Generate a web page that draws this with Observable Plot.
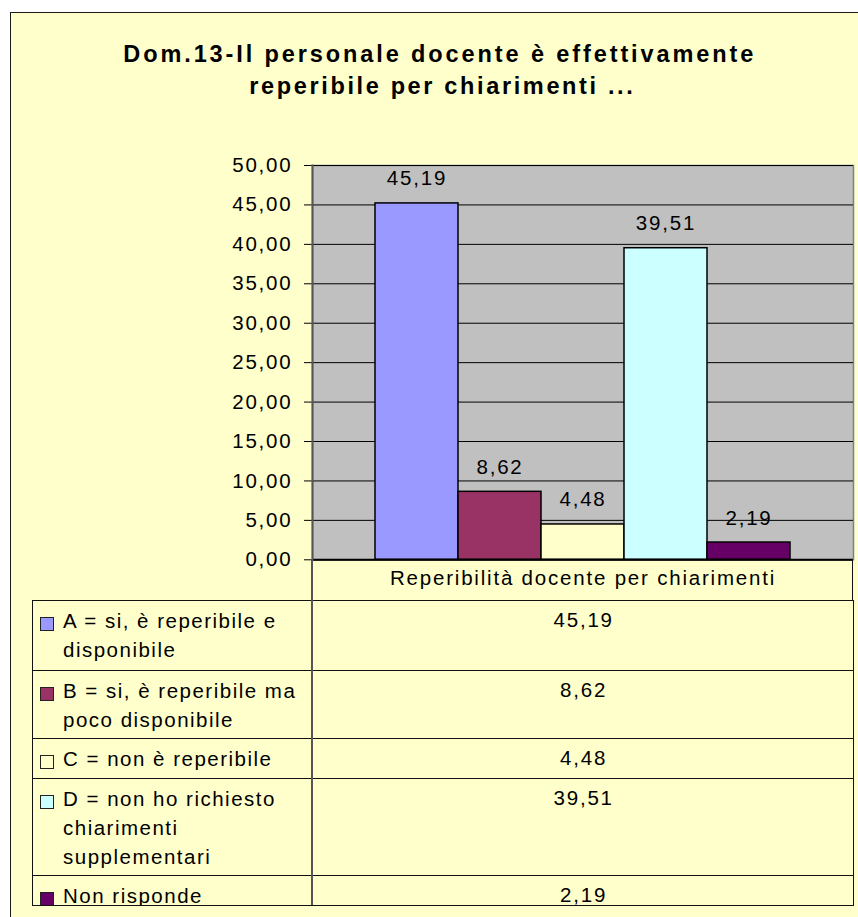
<!DOCTYPE html>
<html><head><meta charset="utf-8">
<script src="https://cdn.jsdelivr.net/npm/d3@7"></script>
<script src="https://cdn.jsdelivr.net/npm/@observablehq/plot@0.6"></script>
<style>
html,body{margin:0;padding:0;background:#fff;overflow:hidden;}
#wrap{position:relative;width:858px;height:917px;overflow:hidden;font-family:"Liberation Sans",Arial,sans-serif;color:#000;}
#bg{position:absolute;left:10px;top:12px;width:900px;height:950px;background:#FFFFCC;border:1.5px solid #1a1a1a;box-sizing:border-box;}
#title{position:absolute;left:0;top:0;}
#chart{position:absolute;left:0;top:0;}
.tbl{position:absolute;left:32px;top:600px;width:821.5px;height:305.5px;border:1px solid #111;box-sizing:border-box;overflow:hidden;}
.row{position:absolute;left:0;width:100%;border-top:1px solid #111;box-sizing:border-box;}
.row:first-child{border-top:none;}
.lab{position:absolute;left:30px;top:5px;font-size:20.5px;line-height:29px;letter-spacing:1.5px;white-space:pre;}
.sw{position:absolute;left:7px;top:16px;width:14px;height:14px;border:1px solid #222;box-sizing:border-box;}
.val{position:absolute;left:280px;right:0;top:4px;text-align:center;font-size:20.5px;line-height:29px;letter-spacing:1.8px;padding-left:1.8px;}
.vline{position:absolute;}
</style></head>
<body><div id="wrap"><div id="bg"></div></div>
<script>
// ---- data ----
const titleLines = ["Dom.13-Il personale docente è effettivamente", "reperibile per chiarimenti ..."];
const category = "Reperibilità docente per chiarimenti";
const seriesKeys = ["A", "B", "C", "D", "E"];
const seriesLabels = [
  "A = si, è reperibile e\ndisponibile",
  "B = si, è reperibile ma\npoco disponibile",
  "C = non è reperibile",
  "D = non ho richiesto\nchiarimenti\nsupplementari",
  "Non risponde"
];
const values = [45.19, 8.62, 4.48, 39.51, 2.19];
const colors = ["#9999FF", "#993366", "#FFFFCC", "#CCFFFF", "#660066"];
const yTicks = [0, 5, 10, 15, 20, 25, 30, 35, 40, 45, 50];

// ---- build ----
const fmt = v => v.toFixed(2).replace(".", ",");
const wrap = document.getElementById("wrap");

// title
const ns = "http://www.w3.org/2000/svg";
const tsvg = document.createElementNS(ns, "svg");
tsvg.setAttribute("id", "title");
tsvg.setAttribute("width", 858); tsvg.setAttribute("height", 120);
const tPos = [{x: 438.3, y: 62, len: 630}, {x: 441, y: 94, len: 383.5}];
titleLines.forEach((t, i) => {
  const el = document.createElementNS(ns, "text");
  el.setAttribute("x", tPos[i].x); el.setAttribute("y", tPos[i].y);
  el.setAttribute("text-anchor", "middle");
  el.setAttribute("font-family", "Liberation Sans, Arial, sans-serif");
  el.setAttribute("font-weight", "bold");
  el.setAttribute("font-size", 23.5);
  el.setAttribute("textLength", tPos[i].len);
  el.setAttribute("lengthAdjust", "spacing");
  el.textContent = t;
  tsvg.appendChild(el);
});
wrap.appendChild(tsvg);

const data = seriesKeys.map((k, i) => ({cat: category, key: k, value: values[i]}));

const H = 605;
const chart = Plot.plot({
  width: 858, height: H,
  marginTop: 165, marginBottom: H - 559.3, marginLeft: 312, marginRight: 5,
  style: {background: "transparent", fontFamily: "Liberation Sans, Arial, sans-serif", fontSize: "20.5px", color: "#000", letterSpacing: "1.8px", overflow: "visible"},
  fx: {domain: [category], padding: 0, label: null, axis: "bottom", tickSize: 0, tickPadding: 11},
  x: {domain: seriesKeys, paddingInner: 0, paddingOuter: 0.75, axis: null},
  y: {domain: [0, 50], ticks: yTicks, tickFormat: fmt, tickSize: 8, tickPadding: 12, label: null},
  color: {domain: seriesKeys, range: colors},
  marks: [
    Plot.frame({fill: "#C0C0C0", stroke: "#808080", strokeWidth: 1.5}),
    Plot.ruleY(yTicks, {stroke: "#000", strokeWidth: 1}),
    Plot.barY(data, {fx: "cat", x: "key", y: "value", fill: "key", stroke: "#000", strokeWidth: 1.5}),
    Plot.ruleY([0], {stroke: "#000", strokeWidth: 2}),
    Plot.frame({anchor: "left", stroke: "#555", strokeWidth: 2}),
    Plot.text(data, {fx: "cat", x: "key", y: "value", text: d => fmt(d.value), dy: -18, lineAnchor: "bottom", fill: "#000"})
  ]
});
chart.setAttribute("id", "chart");
wrap.appendChild(chart);

// data table (legend + values)
const tbl = document.createElement("div");
tbl.className = "tbl";
let rowTop = 0;
seriesLabels.forEach((lab, i) => {
  const n = lab.split("\n").length;
  const h = 29 * n + 10.5;
  const row = document.createElement("div");
  row.className = "row";
  row.style.top = rowTop + "px";
  row.style.height = h + "px";
  const sw = document.createElement("div");
  sw.className = "sw"; sw.style.background = colors[i];
  const t = document.createElement("div");
  t.className = "lab"; t.textContent = lab;
  const v = document.createElement("div");
  v.className = "val"; v.textContent = fmt(values[i]);
  row.append(sw, t, v);
  tbl.appendChild(row);
  rowTop += h;
});
wrap.appendChild(tbl);

// vertical divider and right edge of the category row
const d1 = document.createElement("div");
d1.className = "vline";
Object.assign(d1.style, {left: "311px", top: "559px", width: "2px", height: "346px", background: "#555"});
wrap.appendChild(d1);
const d2 = document.createElement("div");
d2.className = "vline";
Object.assign(d2.style, {left: "852px", top: "559px", width: "1px", height: "42px", background: "#111"});
wrap.appendChild(d2);
</script>
</body></html>
